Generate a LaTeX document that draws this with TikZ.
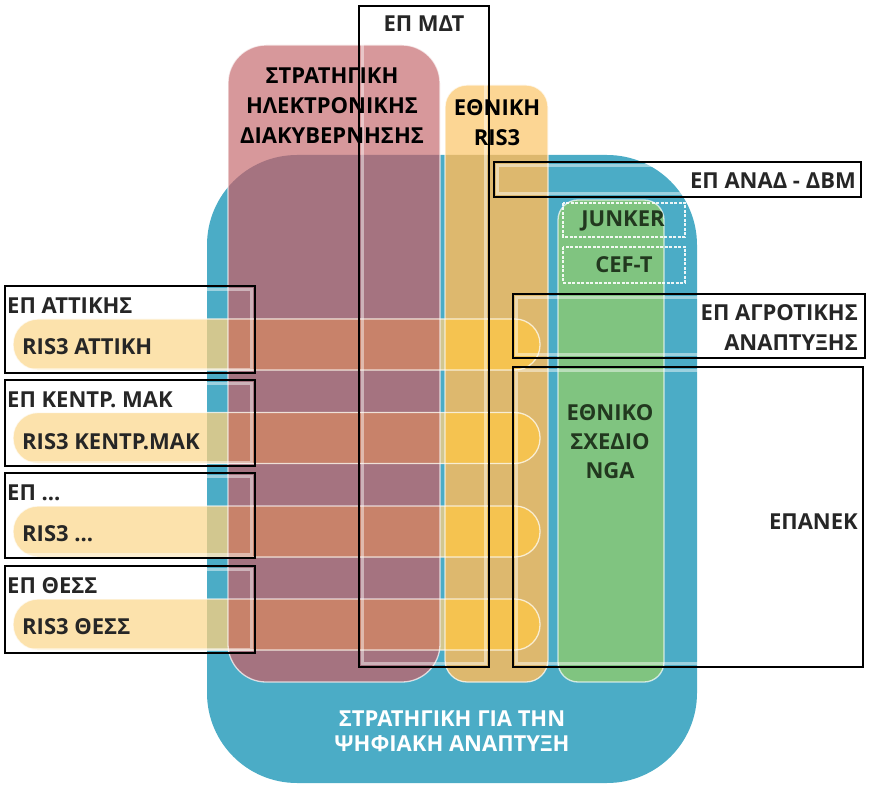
\documentclass[tikz,border=0pt]{standalone}
\usepackage{fontspec}
\setmainfont{Open Sans}
\definecolor{blueB}{HTML}{4BACC6}
\definecolor{pinkW}{HTML}{D7989B}
\definecolor{pinkB}{HTML}{A57380}
\definecolor{ylwW}{HTML}{FCD694}
\definecolor{ylwB}{HTML}{DDB86E}
\definecolor{capW}{HTML}{FCE2AC}
\definecolor{capB}{HTML}{D2C78F}
\definecolor{capP}{HTML}{C8826A}
\definecolor{capY}{HTML}{F5C350}
\definecolor{grn}{HTML}{80C480}
\definecolor{txt}{HTML}{262626}
\definecolor{grntxt}{HTML}{22381F}
\begin{document}
\begin{tikzpicture}[x=1pt,y=-1pt,
  every node/.style={inner sep=0pt, font=\fontsize{22}{30}\selectfont\bfseries, text=txt},
  wline/.style={white, line width=1.3pt, opacity=0.7},
  glow/.style={white, line width=3pt, opacity=0.45},
  epbox/.style={black, line width=1.6pt},
  dbox/.style={white, line width=1.6pt, dash pattern=on 3pt off 1.5pt, opacity=0.9}]
\useasboundingbox (0,0) rectangle (870,794);
% main blue area
\fill[blueB, rounded corners=90pt] (207,155) rectangle (697,783);
% pink and yellow columns over white
\fill[pinkW, rounded corners=38pt] (228,45) rectangle (440,682);
\fill[ylwW, rounded corners=22pt] (445,85) rectangle (548,682);
% over blue
\begin{scope}
  \clip[rounded corners=90pt] (207,155) rectangle (697,783);
  \fill[pinkB, rounded corners=38pt] (228,45) rectangle (440,682);
  \fill[ylwB, rounded corners=22pt] (445,85) rectangle (548,682);
\end{scope}
% green column
\fill[grn, rounded corners=20pt] (558,200) rectangle (664,682);
% capsules
\foreach \t in {319,412.5,506,599}{
  \fill[capW, rounded corners=25pt] (13,\t) rectangle (540,\t+51);
  \begin{scope}
    \clip[rounded corners=90pt] (207,155) rectangle (697,783);
    \fill[capB, rounded corners=25pt] (13,\t) rectangle (540,\t+51);
  \end{scope}
  \begin{scope}
    \clip[rounded corners=38pt] (228,45) rectangle (440,682);
    \fill[capP, rounded corners=25pt] (13,\t) rectangle (540,\t+51);
  \end{scope}
  \begin{scope}
    \clip[rounded corners=22pt] (445,85) rectangle (548,682);
    \fill[capY, rounded corners=25pt] (13,\t) rectangle (540,\t+51);
  \end{scope}
}
% white outlines
\draw[wline, rounded corners=38pt] (228,45) rectangle (440,682);
\draw[wline, rounded corners=22pt] (445,85) rectangle (548,682);
\draw[wline, rounded corners=20pt] (558,200) rectangle (664,682);
\foreach \t in {319,412.5,506,599}{
  \draw[wline, rounded corners=25pt] (13,\t) rectangle (540,\t+51);
}
% dashed boxes
\draw[dbox] (563,203) rectangle (685,237);
\draw[dbox] (563,247) rectangle (685,283);
% black framed boxes
\foreach \a/\b/\c/\d in {5/286/255/373, 5/380/255/466, 5/473/255/558, 5/566/255/653,
  359/6/489/667, 494/162/861/197, 513/294/865/358, 513/367/863/667}{
  \draw[glow] (\a+3.5,\b+3.5) rectangle (\c-3.5,\d-3.5);
  \draw[epbox] (\a,\b) rectangle (\c,\d);
}
% texts
\node[align=center, text=black] (sed) at (332,106) {ΣΤΡΑΤΗΓΙΚΗ\\ΗΛΕΚΤΡΟΝΙΚΗΣ\\ΔΙΑΚΥΒΕΡΝΗΣΗΣ};
\node[align=center, text=black] (ris) at (497,123) {ΕΘΝΙΚΗ\\RIS3};
\node (mdt) at (424,24) {ΕΠ ΜΔΤ};
\node[align=center, text=grntxt, font=\fontsize{22}{29}\selectfont\bfseries] (nga) at (610,442) {ΕΘΝΙΚΟ\\ΣΧΕΔΙΟ\\NGA};
\node[anchor=east] (epanek) at (858,522) {ΕΠΑΝΕΚ};
\node[anchor=east, align=right] (agr) at (858,328) {ΕΠ ΑΓΡΟΤΙΚΗΣ\\ΑΝΑΠΤΥΞΗΣ};
\node[anchor=east] (anad) at (856,181) {ΕΠ ΑΝΑΔ - ΔΒΜ};
\node[text=grntxt] (junker) at (623,221) {JUNKER};
\node[text=grntxt] (ceft) at (624,265) {CEF-T};
\node[anchor=west] (ep1) at (7,306) {ΕΠ ΑΤΤΙΚΗΣ};
\node[anchor=west] (r1) at (22,347) {RIS3 ΑΤΤΙΚΗ};
\node[anchor=west] (ep2) at (7,400) {ΕΠ ΚΕΝΤΡ. ΜΑΚ};
\node[anchor=west] (r2) at (22,442) {RIS3 ΚΕΝΤΡ.ΜΑΚ};
\node[anchor=west] (ep3) at (7,493) {ΕΠ ...};
\node[anchor=west] (r3) at (22,534) {RIS3 ...};
\node[anchor=west] (ep4) at (7,586) {ΕΠ ΘΕΣΣ};
\node[anchor=west] (r4) at (22,627) {RIS3 ΘΕΣΣ};
\node[align=center, text=white, font=\fontsize{22}{25}\selectfont\bfseries] (sfa) at (452,731) {ΣΤΡΑΤΗΓΙΚΗ ΓΙΑ ΤΗΝ\\ΨΗΦΙΑΚΗ ΑΝΑΠΤΥΞΗ};
\end{tikzpicture}
\end{document}
